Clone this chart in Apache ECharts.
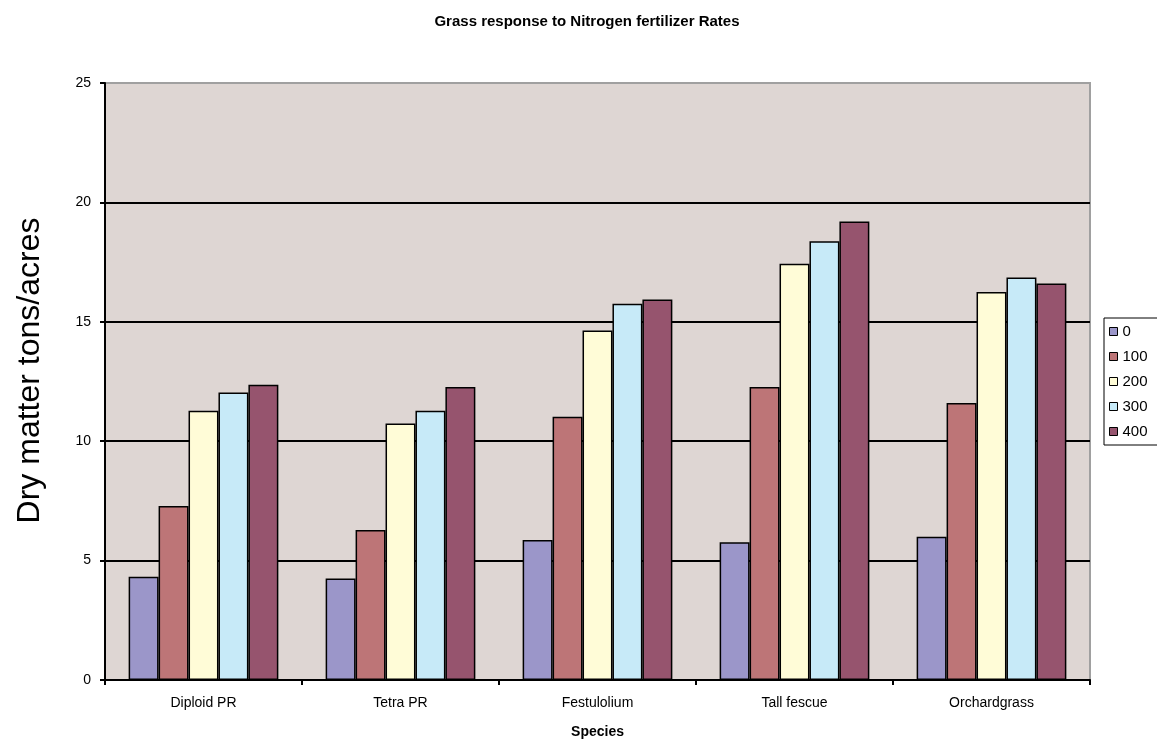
<!DOCTYPE html>
<html><head><meta charset="utf-8">
<script src="https://cdn.jsdelivr.net/npm/echarts@6/dist/echarts.min.js"></script>
<style>html,body{margin:0;padding:0;background:#fff}#c{width:1157px;height:740px}</style>
</head><body><div id="c"></div>
<script>
const categories = ['Diploid PR', 'Tetra PR', 'Festulolium', 'Tall fescue', 'Orchardgrass'];
const rates = ['0', '100', '200', '300', '400'];
const rate0 = [4.32, 4.25, 5.86, 5.77, 6.0];
const rate100 = [7.29, 6.28, 11.02, 12.27, 11.6];
const rate200 = [11.27, 10.74, 14.64, 17.43, 16.25];
const rate300 = [12.04, 11.27, 15.76, 18.37, 16.85];
const rate400 = [12.36, 12.27, 15.93, 19.2, 16.6];
const yTicks = [0, 5, 10, 15, 20, 25];

const values = [rate0, rate100, rate200, rate300, rate400];
const colors = ['#9B96C9', '#BD7577', '#FFFCD7', '#C7EAF8', '#96546E'];
const font = 'Liberation Sans, Arial, sans-serif';

const chart = echarts.init(document.getElementById('c'), null, {renderer: 'canvas'});
chart.setOption({
  animation: false,
  backgroundColor: '#fff',
  title: {
    text: 'Grass response to Nitrogen fertilizer Rates',
    left: 582, top: 9, textAlign: 'center',
    textStyle: {fontFamily: font, fontSize: 15, fontWeight: 'bold', color: '#000'}
  },
  legend: {
    orient: 'vertical',
    left: 1104, top: 318,
    data: rates,
    itemWidth: 8, itemHeight: 8, itemGap: 10,
    borderColor: '#000', borderWidth: 1,
    padding: [6, 20, 6, 5],
    icon: 'rect',
    textStyle: {fontFamily: font, fontSize: 15, color: '#000'},
    itemStyle: {borderColor: '#000', borderWidth: 1}
  },
  grid: {
    left: 105, right: 67, top: 83, bottom: 60,
    outerBoundsMode: 'none', containLabel: false,
    show: true, backgroundColor: '#DED6D3', borderColor: '#A0A0A0', borderWidth: 2
  },
  xAxis: {
    type: 'category',
    data: categories,
    name: 'Species', nameLocation: 'middle', nameGap: 45,
    nameTextStyle: {fontFamily: font, fontSize: 14, fontWeight: 'bold', color: '#000'},
    axisLine: {lineStyle: {color: '#000', width: 2}},
    axisTick: {show: true, length: 5, lineStyle: {color: '#000', width: 2}},
    axisLabel: {fontFamily: font, fontSize: 14, color: '#000', margin: 16}
  },
  yAxis: {
    type: 'value',
    min: yTicks[0], max: yTicks[yTicks.length - 1], interval: 5,
    name: 'Dry matter tons/acres', nameLocation: 'middle', nameGap: 59,
    nameTextStyle: {fontFamily: font, fontSize: 32, color: '#000', padding: [0, 0, 0, 22]},
    axisLine: {show: true, lineStyle: {color: '#000', width: 2}},
    axisTick: {show: true, length: 5, lineStyle: {color: '#000', width: 2}},
    axisLabel: {fontFamily: font, fontSize: 14, color: '#000', margin: 14},
    splitLine: {show: true, lineStyle: {color: ['#000', '#000', '#000', '#000', '#000', '#A0A0A0'], width: 2}}
  },
  series: values.map((v, i) => ({
    name: rates[i],
    type: 'bar',
    data: v,
    barGap: '0%',
    barCategoryGap: '24%',
    itemStyle: {color: colors[i], borderColor: '#000', borderWidth: 1.5}
  }))
});
</script></body></html>
